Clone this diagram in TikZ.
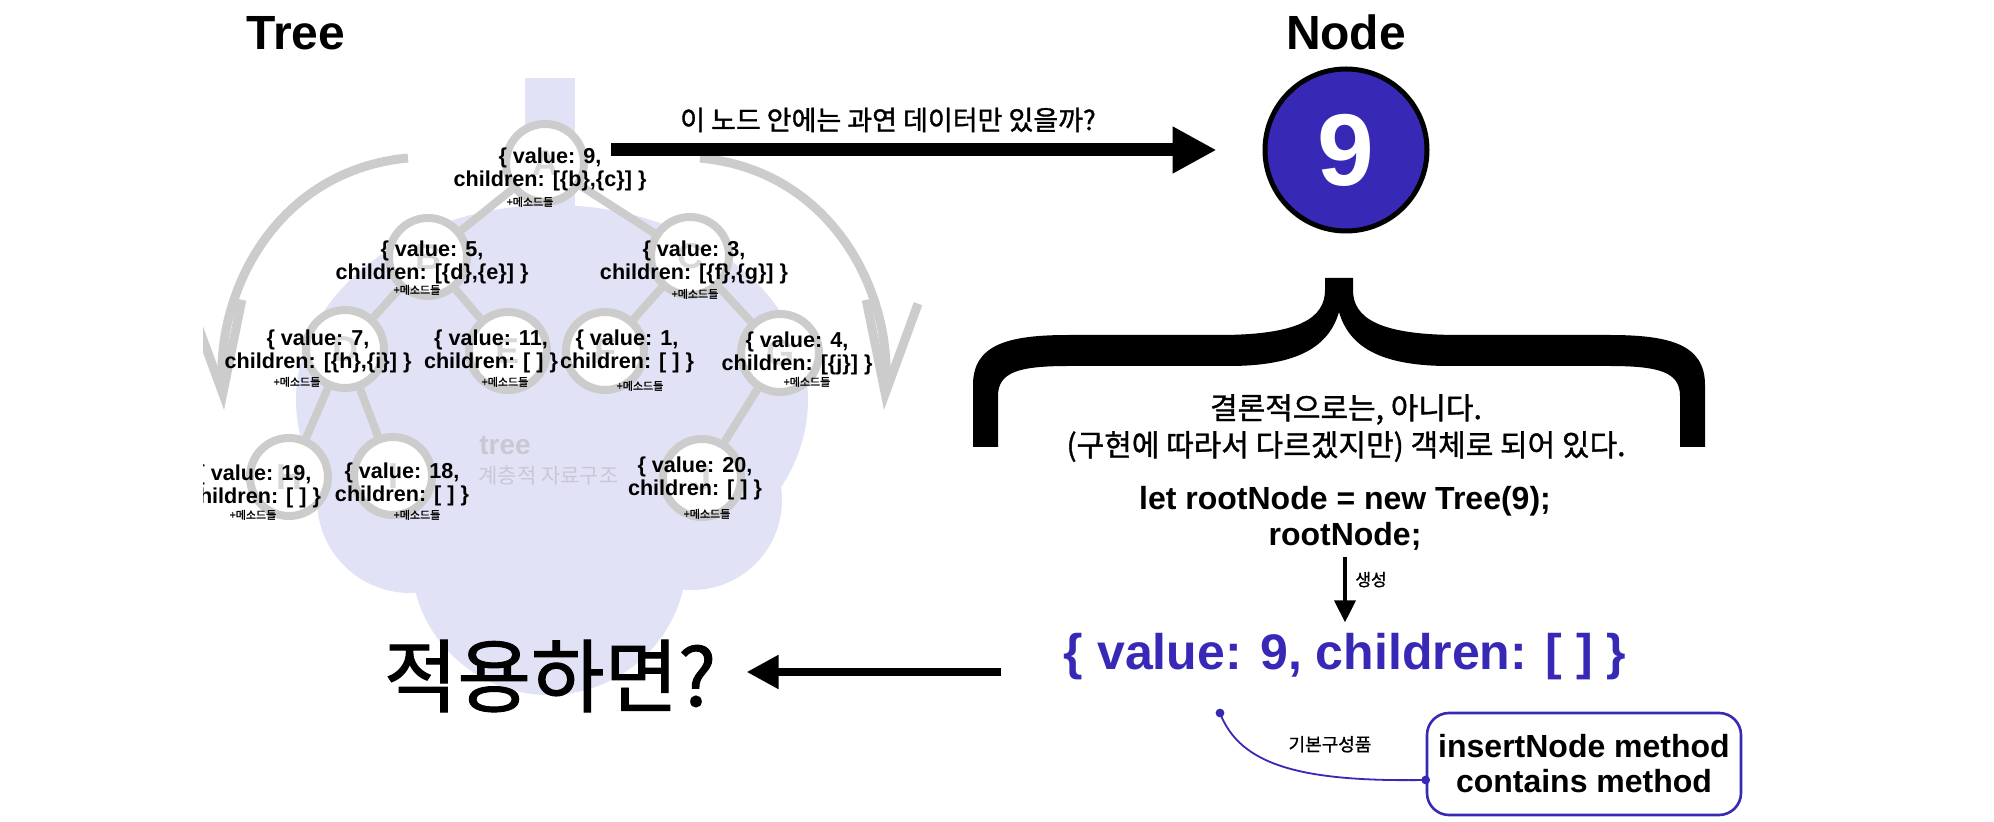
\documentclass[tikz,border=0pt]{standalone}
\usepackage{fontspec}
\setmainfont{Liberation Sans}
\newfontfamily\kr[FakeBold=1.2]{Noto Sans CJK KR}
\newfontfamily\krl{Noto Sans CJK KR}
\usetikzlibrary{arrows.meta}
\definecolor{nblue}{RGB}{56,40,182}
\definecolor{lav}{RGB}{226,226,246}
\definecolor{ringgray}{RGB}{204,204,204}
\definecolor{lettergray}{RGB}{216,216,216}
\definecolor{wmgray}{RGB}{200,200,212}
\begin{document}
\begin{tikzpicture}[x=0.5pt,y=-0.5pt,
  valtext/.style={font=\bfseries\fontsize{10.8}{11.5}\selectfont,align=center,inner sep=0pt},
  methlbl/.style={font=\kr\fontsize{5.5}{6}\selectfont,inner sep=0pt,anchor=base},
  treecirc/.style={circle,draw=ringgray,line width=4pt,fill=white,minimum size=39pt,inner sep=0pt,
    text=lettergray,font=\bfseries\fontsize{18}{18}\selectfont},
  treeedge/.style={draw=ringgray,line width=4pt},
  grayarc/.style={draw=ringgray,line width=4.5pt,-{Straight Barb[length=46pt,width=26pt]}},
  bigarrow/.style={line width=6.5pt,-{Triangle[length=22pt,width=22pt]}},
  leftarrow/.style={line width=4pt,-{Triangle[length=16pt,width=16pt]}},
  downarrow/.style={line width=1.8pt,-{Triangle[length=11pt,width=10.5pt]}},
  title/.style={font=\bfseries\fontsize{24}{26}\selectfont,anchor=base,inner sep=0pt},
  krtext/.style={font=\kr\fontsize{15}{17}\selectfont,anchor=base,inner sep=0pt}
]
\useasboundingbox (0,0) rectangle (1994,822);
\fill[white] (0,0) rectangle (1994,822);

% ---------------- faded tree (clipped on the left) ----------------
\begin{scope}
\clip (203,0) rectangle (1000,822);
% lavender blob (upside-down tree crown)
\fill[lav] (552,400) ellipse[x radius=128pt, y radius=97.5pt];
\fill[lav] (410,500) circle[radius=46.5pt];
\fill[lav] (692,500) circle[radius=45pt];
\fill[lav] (549,557) circle[radius=69pt];
\fill[lav] (525,78) rectangle (575,220);
\node[font=\bfseries\fontsize{14}{14}\selectfont,text=wmgray,anchor=base west,inner sep=0pt] (wm1) at (479,455) {tree};
\node[font=\krl\fontsize{10.5}{12}\selectfont,text=wmgray,anchor=base west,inner sep=0pt] (wm2) at (478,484) {계층적 자료구조};
% big gray arcs
\draw[grayarc] (700,158) .. controls (830,170) and (893,290) .. (884,410);
\draw[grayarc] (408,158) .. controls (278,170) and (215,290) .. (224,410);
% circles
\node[treecirc] (cA) at (545,163) {A};
\node[treecirc] (cB) at (428,257) {B};
\node[treecirc] (cC) at (690,256) {C};
\node[treecirc] (cD) at (345,349) {D};
\node[treecirc] (cE) at (508,351) {E};
\node[treecirc] (cF) at (605,351) {F};
\node[treecirc] (cG) at (780,353) {G};
\node[treecirc] (cH) at (289,477) {H};
\node[treecirc] (cI) at (393,476) {I};
\node[treecirc] (cJ) at (702,478) {J};
% edges
\draw[treeedge] (cA) -- (cB);
\draw[treeedge] (cA) -- (cC);
\draw[treeedge] (cB) -- (cD);
\draw[treeedge] (cB) -- (cE);
\draw[treeedge] (cC) -- (cF);
\draw[treeedge] (cC) -- (cG);
\draw[treeedge] (cD) -- (cH);
\draw[treeedge] (cD) -- (cI);
\draw[treeedge] (cG) -- (cJ);
% value texts
\node[valtext] (tA) at (550,169) {\{ value: 9,\\children: [\{b\},\{c\}] \}};
\node[valtext] (tB) at (432,262) {\{ value: 5,\\children: [\{d\},\{e\}] \}};
\node[valtext] (tC) at (694,262) {\{ value: 3,\\children: [\{f\},\{g\}] \}};
\node[valtext] (tD) at (318,351) {\{ value: 7,\\children: [\{h\},\{i\}] \}};
\node[valtext] (tE) at (491,351) {\{ value: 11,\\children: [ ] \}};
\node[valtext] (tF) at (627,351) {\{ value: 1,\\children: [ ] \}};
\node[valtext] (tG) at (797,353) {\{ value: 4,\\children: [\{j\}] \}};
\node[valtext] (tH) at (254,486) {\{ value: 19,\\children: [ ] \}};
\node[valtext] (tI) at (402,484) {\{ value: 18,\\children: [ ] \}};
\node[valtext] (tJ) at (695,478) {\{ value: 20,\\children: [ ] \}};
% method labels
\node[methlbl] (mA) at (530,206) {+메소드들};
\node[methlbl] (mB) at (417,294) {+메소드들};
\node[methlbl] (mC) at (695,298) {+메소드들};
\node[methlbl] (mD) at (297,386) {+메소드들};
\node[methlbl] (mE) at (505,386) {+메소드들};
\node[methlbl] (mF) at (640,390) {+메소드들};
\node[methlbl] (mG) at (807,386) {+메소드들};
\node[methlbl] (mH) at (253,519) {+메소드들};
\node[methlbl] (mI) at (417,519) {+메소드들};
\node[methlbl] (mJ) at (707,518) {+메소드들};
\end{scope}

% ---------------- titles ----------------
\node[title] (ttree) at (296,50) {Tree};
\node[title] (tnode) at (1346,50) {Node};

% ---------------- node circle and top arrow ----------------
\node[circle,draw=black,line width=2.5pt,fill=nblue,minimum size=81pt,inner sep=0pt,
      text=white,font=\bfseries\fontsize{51}{51}\selectfont] (nine) at (1346,150) {9};
\coordinate (topstart) at (611,150);
\draw[bigarrow,shorten >=23pt] (topstart) -- (topstart -| nine.west);
\node[font=\kr\fontsize{13.5}{16}\selectfont,anchor=base,inner sep=0pt] (qlabel) at (888,130) {이 노드 안에는 과연 데이터만 있을까?};

% ---------------- big brace ----------------
\fill[black] (973,447) -- (973,385) .. controls (973,344) and (1009,335) .. (1069,335)
  -- (1219,335) .. controls (1299,335) and (1325,318) .. (1325,290) -- (1325,278)
  -- (1353,278) -- (1353,290) .. controls (1353,318) and (1379,335) .. (1459,335)
  -- (1609,335) .. controls (1669,335) and (1705,344) .. (1705,385) -- (1705,447)
  -- (1680,447) -- (1680,396) .. controls (1680,372) and (1659,366) .. (1609,366)
  -- (1449,366) .. controls (1379,366) and (1349,346) .. (1339,312)
  .. controls (1329,346) and (1299,366) .. (1229,366)
  -- (1069,366) .. controls (1019,366) and (998,372) .. (998,396) -- (998,447) -- cycle;

\node[krtext] (concl1) at (1346,419) {결론적으로는, 아니다.};
\node[krtext] (concl2) at (1346,456) {(구현에 따라서 다르겠지만) 객체로 되어 있다.};

% ---------------- code ----------------
\node[font=\bfseries\fontsize{16}{18}\selectfont,anchor=base,inner sep=0pt] (code1) at (1345,510) {let rootNode = new Tree(9);};
\node[font=\bfseries\fontsize{16}{18}\selectfont,anchor=base,inner sep=0pt] (code2) at (1345,546) {rootNode;};
\node[font=\bfseries\fontsize{25}{27}\selectfont,text=nblue,anchor=base,inner sep=0pt] (blue) at (1345,670) {\{ value: 9, children: [ ] \}};
\draw[downarrow,shorten <=5.5pt,shorten >=5.5pt] (code2.base) -- (blue.north);
\node[font=\kr\fontsize{8.5}{10}\selectfont,anchor=base west,inner sep=0pt] (gen) at (1355,586) {생성};

% ---------------- apply ----------------
\node[font=\kr\fontsize{40}{44}\selectfont,anchor=base,inner sep=0pt] (apply) at (550,706) {적용하면?};
\coordinate (ly) at (0,672);
\draw[leftarrow,shorten <=31.5pt,shorten >=15pt] (blue.west |- ly) -- (apply.east |- ly);

% ---------------- methods box ----------------
\node[draw=nblue,line width=1.3pt,rounded corners=11pt,minimum width=157pt,minimum height=51pt,
      align=center,inner sep=0pt,font=\bfseries\fontsize{16}{17.5}\selectfont] (box) at (1584,764)
      {insertNode method\\contains method};
\coordinate (cstart) at (1220,713);
\coordinate (cy) at (0,780);
\coordinate (cend) at (box.west |- cy);
\draw[nblue,line width=0.9pt] (cstart) .. controls (1240,765) and (1300,782) .. (cend);
\fill[nblue] (cstart) circle[radius=2.2pt];
\fill[nblue] (cend) circle[radius=2.2pt];
\node[font=\kr\fontsize{9}{10}\selectfont,anchor=base,inner sep=0pt] (basic) at (1330,751) {기본구성품};
\end{tikzpicture}
\end{document}
